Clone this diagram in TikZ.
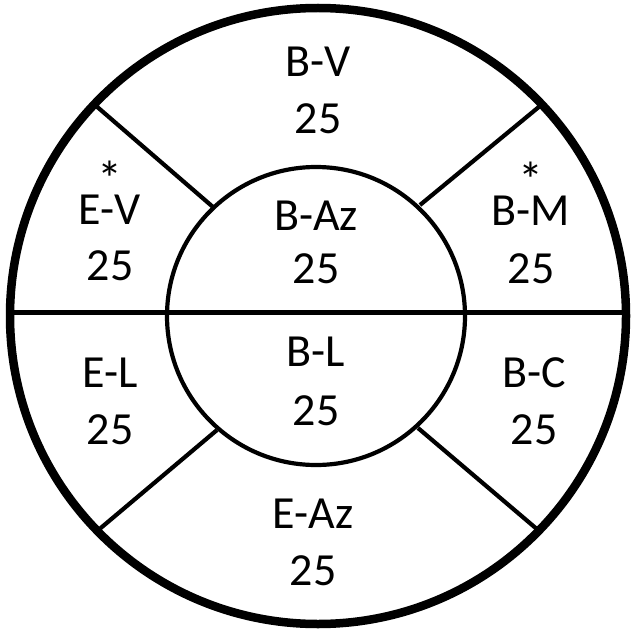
\documentclass[tikz,border=0pt]{standalone}
\usepackage{fontspec}
\setmainfont{Carlito}
\begin{document}
\begin{tikzpicture}[x=1pt,y=-1pt,
  lbl/.style={inner sep=0pt,font=\fontsize{46}{46}\selectfont},
  star/.style={inner sep=0pt,anchor=base,font=\fontsize{50}{50}\selectfont},
  outer/.style={line width=8.5pt},
  thin/.style={line width=4.2pt}]
\useasboundingbox (0,0) rectangle (636,639);
\fill[white] (0,0) rectangle (636,639);
% circles
\draw[outer] (318,316) circle[radius=308];
\draw[thin] (316,316) circle[radius=149];
% dividing lines
\draw[thin] (10,312.5) -- (626,312.5);
\draw[thin] (213,207) -- (95,105);
\draw[thin] (420,205) -- (540,106);
\draw[thin] (217,430) -- (96,532);
\draw[thin] (418,428) -- (538,530);
% labels
\node[lbl] (bv) at (318,62) {B-V};
\node[lbl] (bvn) at (318,119) {25};
\node[star] (evs) at (110,196) {*};
\node[lbl] (ev) at (110,210) {E-V};
\node[lbl] (evn) at (110,266) {25};
\node[lbl] (baz) at (316,216) {B-Az};
\node[lbl] (bazn) at (316,269) {25};
\node[star] (bms) at (531,197) {*};
\node[lbl] (bm) at (531,211) {B-M};
\node[lbl] (bmn) at (531,269) {25};
\node[lbl] (el) at (110,373) {E-L};
\node[lbl] (eln) at (110,430) {25};
\node[lbl] (bl) at (316,352) {B-L};
\node[lbl] (bln) at (316,411) {25};
\node[lbl] (bc) at (534,373) {B-C};
\node[lbl] (bcn) at (534,430) {25};
\node[lbl] (eaz) at (313,514) {E-Az};
\node[lbl] (eazn) at (313,571) {25};
\end{tikzpicture}
\end{document}
